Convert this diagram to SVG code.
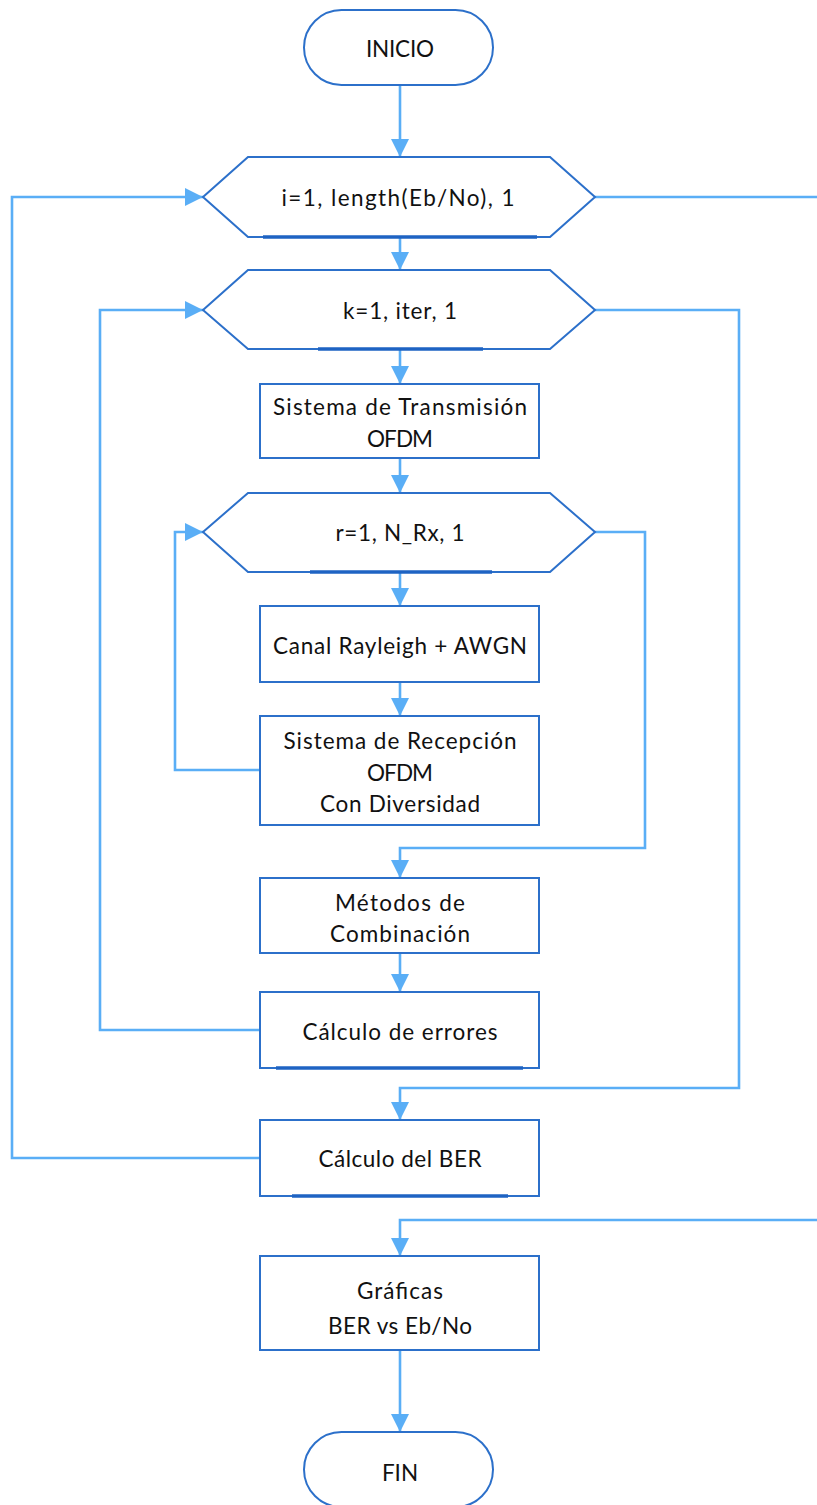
<svg xmlns="http://www.w3.org/2000/svg" width="817" height="1505" viewBox="0 0 817 1505">
  <defs>
    <marker id="arrow" markerUnits="userSpaceOnUse" markerWidth="18" markerHeight="19" refX="18" refY="9" orient="auto">
      <path d="M0,0 L18,9 L0,18 Z" fill="#5AAEF6"/>
    </marker>
    <style>
      .node { fill: #ffffff; stroke: #2C70CA; stroke-width: 2; }
      .base { stroke: #1E63C3; stroke-width: 3.5; }
      .edge { fill: none; stroke: #5AAEF6; stroke-width: 2.6; marker-end: url(#arrow); }
      .label { font-family: "Lato", "Liberation Sans", sans-serif; font-size: 22.5px; fill: #111111; text-anchor: middle; dominant-baseline: central; }
    </style>
  </defs>
  <rect width="817" height="1505" fill="#ffffff"/>

  <!-- connectors -->
  <g id="connectors">
    <path class="edge" d="M400,85 L400,157"/>
    <path class="edge" d="M400,237 L400,270"/>
    <path class="edge" d="M400,349 L400,384"/>
    <path class="edge" d="M400,458 L400,493"/>
    <path class="edge" d="M400,572 L400,606"/>
    <path class="edge" d="M400,682 L400,716"/>
    <path class="edge" d="M260,770 L175,770 L175,532 L203,532"/>
    <path class="edge" d="M595,532 L645,532 L645,848 L400,848 L400,878"/>
    <path class="edge" d="M400,953 L400,992"/>
    <path class="edge" d="M260,1030 L100,1030 L100,310 L203,310"/>
    <path class="edge" d="M595,310 L739,310 L739,1088 L400,1088 L400,1120"/>
    <path class="edge" d="M260,1158 L12,1158 L12,197 L203,197"/>
    <path class="edge" d="M595,197 L822,197 L822,1220 L400,1220 L400,1256"/>
    <path class="edge" d="M400,1350 L400,1432"/>
  </g>

  <!-- start -->
  <g id="inicio">
    <rect class="node" x="304" y="10" width="189" height="75" rx="37.5"/>
    <text class="label" x="400" y="48" textLength="68" lengthAdjust="spacing">INICIO</text>
  </g>

  <!-- outer loop over Eb/No -->
  <g id="loop-i">
    <polygon class="node" points="203,197 248,157 550,157 595,197 550,237 248,237"/>
    <line class="base" x1="263" y1="237" x2="537" y2="237"/>
    <text class="label" x="398" y="197" textLength="233" lengthAdjust="spacing">i=1, length(Eb/No), 1</text>
  </g>

  <!-- iteration loop -->
  <g id="loop-k">
    <polygon class="node" points="203,310 248,270 550,270 595,310 550,349 248,349"/>
    <line class="base" x1="318" y1="349" x2="483" y2="349"/>
    <text class="label" x="400" y="310" textLength="114" lengthAdjust="spacing">k=1, iter, 1</text>
  </g>

  <g id="transmision">
    <rect class="node" x="260" y="384" width="279" height="74"/>
    <text class="label" x="400" y="406" textLength="254" lengthAdjust="spacing">Sistema de Transmisión</text>
    <text class="label" x="400" y="438" textLength="66" lengthAdjust="spacing">OFDM</text>
  </g>

  <!-- receive antenna loop -->
  <g id="loop-r">
    <polygon class="node" points="203,532 248,493 550,493 595,532 550,572 248,572"/>
    <line class="base" x1="310" y1="572" x2="492" y2="572"/>
    <text class="label" x="400" y="532" textLength="129" lengthAdjust="spacing">r=1, N_Rx, 1</text>
  </g>

  <g id="canal">
    <rect class="node" x="260" y="606" width="279" height="76"/>
    <text class="label" x="400" y="645" textLength="254" lengthAdjust="spacing">Canal Rayleigh + AWGN</text>
  </g>

  <g id="recepcion">
    <rect class="node" x="260" y="716" width="279" height="109"/>
    <text class="label" x="400" y="740" textLength="233" lengthAdjust="spacing">Sistema de Recepción</text>
    <text class="label" x="400" y="772" textLength="66" lengthAdjust="spacing">OFDM</text>
    <text class="label" x="400" y="803" textLength="160" lengthAdjust="spacing">Con Diversidad</text>
  </g>

  <g id="combinacion">
    <rect class="node" x="260" y="878" width="279" height="75"/>
    <text class="label" x="400" y="902" textLength="130" lengthAdjust="spacing">Métodos de</text>
    <text class="label" x="400" y="933" textLength="140" lengthAdjust="spacing">Combinación</text>
  </g>

  <g id="errores">
    <rect class="node" x="260" y="992" width="279" height="76"/>
    <line class="base" x1="276" y1="1068" x2="523" y2="1068"/>
    <text class="label" x="400" y="1031" textLength="195" lengthAdjust="spacing">Cálculo de errores</text>
  </g>

  <g id="ber">
    <rect class="node" x="260" y="1120" width="279" height="76"/>
    <line class="base" x1="292" y1="1196" x2="508" y2="1196"/>
    <text class="label" x="400" y="1158" textLength="163" lengthAdjust="spacing">Cálculo del BER</text>
  </g>

  <g id="graficas">
    <rect class="node" x="260" y="1256" width="279" height="94"/>
    <text class="label" x="400" y="1290" textLength="86" lengthAdjust="spacing">Gráficas</text>
    <text class="label" x="400" y="1325" textLength="144" lengthAdjust="spacing">BER vs Eb/No</text>
  </g>

  <!-- end -->
  <g id="fin">
    <rect class="node" x="304" y="1432" width="189" height="75" rx="37.5"/>
    <text class="label" x="400" y="1472">FIN</text>
  </g>
</svg>
